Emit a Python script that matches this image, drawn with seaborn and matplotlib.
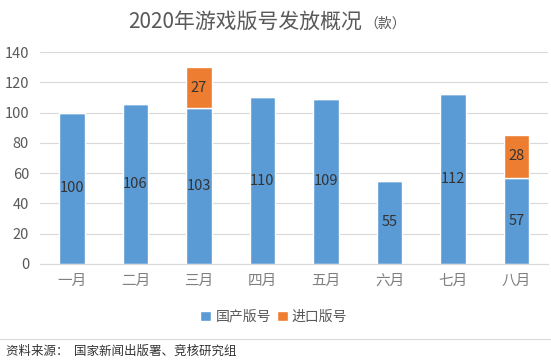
import pandas as pd
import matplotlib.pyplot as plt
import seaborn as sns

# Datos del gráfico
meses = ['一月', '二月', '三月', '四月', '五月', '六月', '七月', '八月']
domestico = [100, 106, 103, 110, 109, 55, 112, 57]
importado = [0, 0, 27, 0, 0, 0, 0, 28]

df = pd.DataFrame({'mes': meses, 'domestico': domestico, 'importado': importado})

sns.set_style('white')
plt.rcParams['font.family'] = ['Noto Sans CJK SC', 'DejaVu Sans']

azul = '#5B9BD5'
naranja = '#ED7D31'
gris = '#595959'

fig = plt.figure(figsize=(5.51, 3.64), dpi=100)
ax = fig.add_axes([0.073, 0.275, 0.922, 0.582])

sns.barplot(data=df, x='mes', y='domestico', color=azul, width=0.4,
            saturation=1, ax=ax, label='国产版号')
sns.barplot(data=df, x='mes', y='importado', color=naranja, width=0.4,
            saturation=1, bottom=df['domestico'], ax=ax, label='进口版号')

# Etiquetas de valores
for i, (d, m) in enumerate(zip(domestico, importado)):
    ax.text(i, d / 2, str(d), ha='center', va='center', fontsize=10.5, color='#333333')
    if m > 0:
        ax.text(i, d + m / 2, str(m), ha='center', va='center', fontsize=10.5, color='#333333')

ax.set_ylim(0, 140)
ax.set_yticks(range(0, 141, 20))
ax.set_xlim(-0.5, 7.5)
ax.yaxis.grid(True, color='#D9D9D9', linewidth=0.8)
ax.set_axisbelow(True)
for s in ['top', 'right', 'left']:
    ax.spines[s].set_visible(False)
ax.spines['bottom'].set_color('#D9D9D9')
ax.tick_params(axis='y', length=0, labelsize=10.5, colors=gris, pad=8)
ax.tick_params(axis='x', length=0, labelsize=10.5, colors='#7F7F7F', pad=7)
ax.set_xlabel('')
ax.set_ylabel('')

# Título
fig.text(0.658, 0.94, '2020年游戏版号发放概况', ha='right', va='center',
         fontsize=15, color=gris)
fig.text(0.662, 0.935, '（款）', ha='left', va='center', fontsize=10, color=gris)

ax.legend(loc='center', bbox_to_anchor=(0.46, -0.25), ncol=2, frameon=False,
          fontsize=10, handlelength=0.8, handleheight=0.8, handletextpad=0.3,
          columnspacing=0.4, labelcolor=gris)

fig.add_artist(plt.Line2D([0, 1], [0.068, 0.068], color='#D9D9D9', linewidth=0.8))
fig.text(0.01, 0.035, '资料来源：  国家新闻出版署、竞核研究组', fontsize=9,
         style='italic', color='#333333', va='center')

fig.savefig('out.png', dpi=100)
